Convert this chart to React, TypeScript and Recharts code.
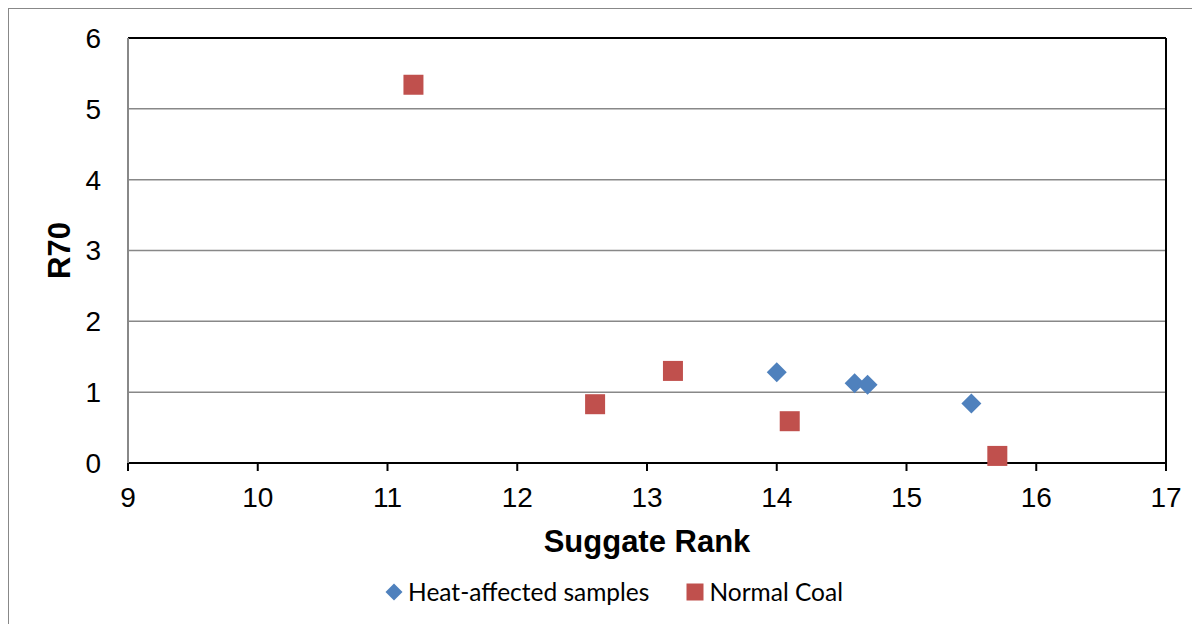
import React from 'react';
import {
  ScatterChart,
  Scatter,
  XAxis,
  YAxis,
  CartesianGrid,
  Legend,
  ReferenceLine,
} from 'recharts';

// Suggate rank vs R70
const heatRank = [14.0, 14.6, 14.7, 15.5];
const heatR70 = [1.28, 1.125, 1.105, 0.84];
const coalRank = [11.2, 12.6, 13.2, 14.1, 15.7];
const coalR70 = [5.34, 0.83, 1.3, 0.59, 0.1];

const xTicks = [9, 10, 11, 12, 13, 14, 15, 16, 17];
const yTicks = [0, 1, 2, 3, 4, 5, 6];

const BLUE = '#4F81BD';
const RED = '#C0504D';
const AXIS_FONT = '"Liberation Sans", Arial, sans-serif';

const heatData = heatRank.map((x, i) => ({ x, y: heatR70[i] }));
const coalData = coalRank.map((x, i) => ({ x, y: coalR70[i] }));

const Diamond = (props: any) => {
  const { cx, cy, fill } = props;
  const r = 10;
  return <polygon points={`${cx},${cy - r} ${cx + r},${cy} ${cx},${cy + r} ${cx - r},${cy}`} fill={fill} />;
};

const Square = (props: any) => {
  const { cx, cy, fill } = props;
  return <rect x={cx - 10} y={cy - 10} width={20} height={20} fill={fill} />;
};

const legendItems = [
  { name: 'Heat-affected samples', color: BLUE, shape: 'diamond' },
  { name: 'Normal Coal', color: RED, shape: 'square' },
];

const renderLegend = () => (
  <div
    style={{
      display: 'flex',
      justifyContent: 'center',
      alignItems: 'center',
      gap: 37,
      paddingLeft: 53,
      fontFamily: 'Lato, "Open Sans", sans-serif',
      fontSize: 24.5,
      color: '#000',
    }}
  >
    {legendItems.map((item) => (
      <div key={item.name} style={{ display: 'flex', alignItems: 'center' }}>
        <svg width={18} height={18} style={{ marginRight: 5 }}>
          {item.shape === 'diamond' ? (
            <polygon points="9,0.5 17.5,9 9,17.5 0.5,9" fill={item.color} />
          ) : (
            <rect x={0.5} y={0.5} width={17} height={17} fill={item.color} />
          )}
        </svg>
        <span>{item.name}</span>
      </div>
    ))}
  </div>
);

export default function App() {
  return (
    <div
      style={{
        width: 1191,
        height: 615,
        borderTop: '1px solid #888',
        borderLeft: '1px solid #888',
        background: '#fff',
        overflow: 'hidden',
      }}
    >
      <ScatterChart width={1191} height={615} margin={{ top: 29, right: 34, bottom: 7, left: 0 }}>
        <CartesianGrid horizontal vertical={false} stroke="#888" strokeWidth={1.5} />
        <XAxis
          type="number"
          dataKey="x"
          domain={[9, 17]}
          ticks={xTicks}
          allowDataOverflow
          height={114}
          axisLine={{ stroke: '#000', strokeWidth: 2 }}
          tickLine={{ stroke: '#000', strokeWidth: 2 }}
          tickSize={8}
          tickMargin={16}
          tick={{ fontSize: 28, fill: '#000', fontFamily: AXIS_FONT }}
          label={{
            value: 'Suggate Rank',
            position: 'insideTop',
            offset: 67,
            style: { fontSize: 31, fontWeight: 'bold', fill: '#000', fontFamily: AXIS_FONT },
          }}
        />
        <YAxis
          type="number"
          dataKey="y"
          domain={[0, 6]}
          ticks={yTicks}
          width={119}
          axisLine={{ stroke: '#888', strokeWidth: 2 }}
          tickLine={false}
          tickSize={0}
          tickMargin={27}
          tick={{ fontSize: 28, fill: '#000', fontFamily: AXIS_FONT }}
          label={{
            value: 'R70',
            angle: -90,
            position: 'insideLeft',
            offset: 50,
            style: { textAnchor: 'middle', fontSize: 31, fontWeight: 'bold', fill: '#000', fontFamily: AXIS_FONT },
          }}
        />
        <ReferenceLine y={6} stroke="#000" strokeWidth={2} />
        <ReferenceLine x={17} stroke="#000" strokeWidth={2} />
        <Legend verticalAlign="bottom" height={40} content={renderLegend} />
        <Scatter name="Heat-affected samples" data={heatData} fill={BLUE} shape={Diamond} isAnimationActive={false} />
        <Scatter name="Normal Coal" data={coalData} fill={RED} shape={Square} isAnimationActive={false} />
      </ScatterChart>
    </div>
  );
}
